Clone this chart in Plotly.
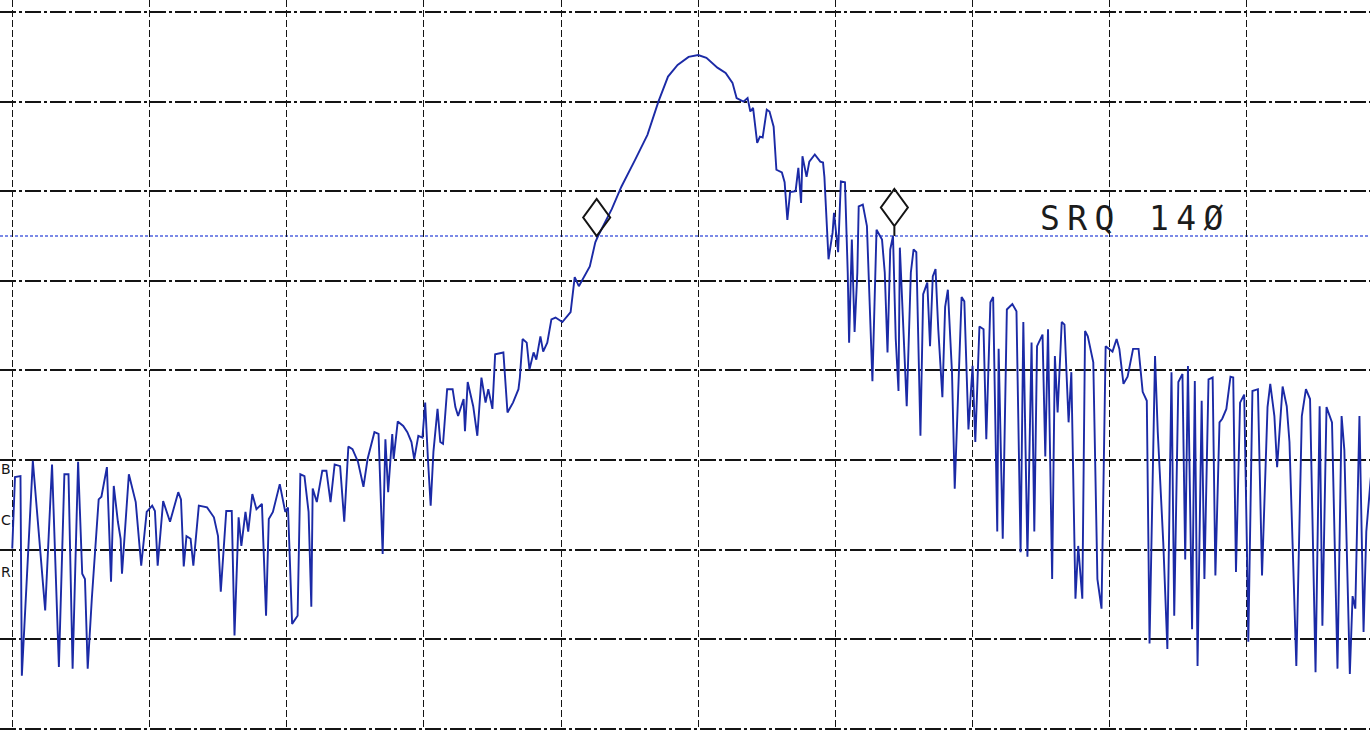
import plotly.graph_objects as go

# Spectrum analyzer trace: 1001-point sweep, 100 points per horizontal division,
# amplitude in dB below the reference level (10 dB/div).
trace_point = [
    0, 2, 6, 7, 15, 24, 29, 34, 38, 41, 44, 48, 51, 53, 55, 58, 63, 65, 69, 72,
    74, 77, 79, 80, 85, 90, 94, 98, 102, 104, 106, 110, 115, 121, 123, 125, 127, 130, 132, 136,
    142, 147, 150, 152, 156, 160, 162, 165, 167, 170, 172, 175, 178, 182, 185, 187, 190, 195, 199, 201,
    204, 208, 210, 213, 216, 218, 219, 222, 226, 229, 232, 235, 239, 242, 245, 248, 252, 256, 259, 264,
    267, 270, 272, 274, 277, 278, 281, 285, 288, 291, 293, 296, 299, 301, 303, 305, 307, 310, 312, 314,
    317, 321, 323, 325, 329, 330, 332, 336, 339, 342, 345, 347, 350, 352, 358, 361, 365, 369, 370, 372,
    375, 377, 380, 382, 385, 387, 390, 393, 396, 401, 407, 410, 413, 416, 421, 425, 427, 437, 444, 454,
    463, 471, 478, 485, 493, 500, 506, 514, 520, 525, 528, 533, 536, 538, 540, 543, 545, 547, 550, 552,
    555, 557, 561, 563, 565, 567, 571, 573, 575, 576, 579, 581, 585, 589, 591, 592, 595, 598, 599, 602,
    604, 607, 609, 610, 612, 614, 616, 617, 620, 623, 625, 627, 630, 634, 636, 638, 640, 642, 644, 646,
    647, 649, 652, 655, 657, 659, 662, 664, 667, 669, 671, 673, 675, 678, 680, 682, 685, 687, 689, 692,
    694, 697, 700, 702, 705, 708, 710, 713, 715, 718, 719, 722, 725, 729, 732, 735, 737, 740, 743, 745,
    747, 751, 753, 755, 758, 760, 762, 765, 767, 770, 772, 775, 777, 780, 782, 784, 788, 791, 794, 797,
    802, 805, 807, 810, 813, 817, 821, 824, 827, 829, 833, 835, 839, 842, 845, 847, 850, 853, 855, 857,
    860, 862, 864, 867, 869, 872, 875, 877, 880, 882, 885, 888, 890, 892, 895, 898, 900, 901, 904, 908,
    911, 915, 917, 920, 922, 926, 929, 931, 936, 940, 943, 946, 950, 953, 955, 958, 962, 966, 969, 971,
    975, 977, 979, 982, 985, 987, 990, 994, 1000,
]
trace_db = [
    -59.9, -51.9, -51.8, -74.1, -50.1, -66.8, -50.5, -73.1, -51.6, -51.6, -73.3, -50.2, -62.7, -63.3, -73.3, -65.5, -54.4, -54.1, -50.8, -63.6,
    -52.9, -56.9, -58.8, -62.7, -51.6, -54.7, -61.8, -55.8, -55.1, -55.7, -61.8, -54.6, -56.9, -53.6, -54.4, -61.9, -58.5, -58.8, -61.8, -55.1,
    -55.3, -56.4, -58.5, -64.7, -55.7, -55.7, -69.6, -56.4, -59.6, -55.8, -58.0, -53.8, -55.5, -54.9, -67.4, -56.6, -55.8, -52.7, -55.8, -55.3,
    -68.3, -67.4, -51.6, -51.8, -55.8, -66.4, -53.2, -54.7, -51.2, -51.2, -54.7, -50.5, -50.7, -56.9, -48.5, -48.8, -50.2, -53.0, -49.9, -46.9,
    -47.1, -60.5, -47.7, -53.6, -47.1, -49.9, -45.7, -46.2, -46.9, -48.0, -49.9, -47.3, -47.5, -43.6, -49.9, -55.1, -49.1, -44.3, -48.0, -48.2,
    -42.1, -42.1, -44.1, -45.1, -43.2, -46.8, -41.3, -44.0, -47.3, -40.8, -43.6, -42.1, -44.3, -38.2, -38.0, -44.7, -43.6, -42.1, -40.8, -36.5,
    -36.9, -39.9, -38.0, -38.8, -36.2, -37.9, -36.9, -34.3, -34.1, -34.6, -33.5, -29.6, -30.6, -29.8, -28.4, -25.7, -25.0, -22.0, -19.5, -16.5,
    -13.7, -10.0, -7.2, -5.9, -5.0, -4.8, -5.1, -6.2, -6.8, -7.9, -9.6, -10.0, -9.6, -11.1, -10.7, -14.6, -13.9, -14.0, -10.9, -11.1,
    -12.8, -17.6, -17.9, -19.0, -23.2, -20.1, -20.0, -17.4, -21.3, -16.1, -18.4, -16.7, -15.9, -16.7, -16.8, -18.4, -27.6, -24.6, -22.4, -26.8,
    -18.9, -19.0, -29.1, -36.9, -25.4, -35.7, -29.1, -21.7, -21.5, -23.9, -33.5, -41.2, -24.3, -25.4, -29.1, -38.0, -26.5, -25.0, -36.5, -42.3,
    -26.3, -32.9, -44.0, -29.1, -26.5, -26.8, -47.3, -31.5, -30.2, -37.3, -29.5, -28.7, -35.4, -43.0, -32.9, -31.0, -40.2, -53.2, -44.0, -31.8,
    -32.3, -46.6, -39.5, -48.0, -35.1, -35.4, -47.7, -32.4, -31.8, -58.0, -37.6, -58.8, -33.2, -32.6, -33.4, -60.3, -34.6, -60.8, -36.9, -58.0,
    -37.3, -36.0, -49.6, -35.4, -63.3, -38.4, -44.7, -34.6, -34.9, -45.8, -40.2, -65.5, -59.6, -65.5, -35.6, -36.2, -39.1, -63.3, -66.6, -37.3,
    -37.9, -36.5, -37.6, -41.5, -40.7, -37.6, -37.6, -42.4, -43.4, -70.5, -38.4, -46.9, -59.2, -71.1, -40.2, -67.4, -41.3, -40.4, -61.1, -39.5,
    -68.9, -41.2, -73.0, -43.4, -63.3, -41.0, -40.8, -62.9, -45.8, -45.4, -44.3, -40.7, -40.8, -62.5, -43.6, -42.7, -59.9, -70.3, -42.3, -42.1,
    -62.9, -44.1, -41.5, -45.1, -50.8, -41.8, -44.0, -48.0, -73.0, -45.1, -42.1, -43.2, -73.7, -44.0, -68.5, -44.1, -45.8, -73.3, -45.1, -48.9,
    -73.9, -65.2, -66.6, -45.1, -69.2, -58.0, -52.5, -46.0, -50.0,
]

# Graticule: 10 horizontal divisions, 8 vertical divisions of 10 dB
grid_points = list(range(0, 1001, 100))
grid_db = list(range(0, -81, -10))

# Display line and the two markers sitting on it
display_line_db = -25.0
marker_point = [426, 643]
marker_db = [-25.0, -25.0]

status_text = "SRQ 14Ø"
edge_labels = ["B", "C", "R"]

TRACE_BLUE = "#1b2aa6"
INK = "#141414"

fig = go.Figure()

fig.add_trace(go.Scatter(
    x=trace_point, y=trace_db, mode="lines",
    line=dict(color=TRACE_BLUE, width=1.9),
    hoverinfo="skip", showlegend=False,
))

# Display line across the full sweep
fig.add_shape(
    type="line", xref="paper", x0=0, x1=1, yref="y",
    y0=display_line_db, y1=display_line_db,
    line=dict(color="#5064e0", width=1.3, dash="3px,2px"),
    layer="between",
)

# Diamond marker symbols, sized in screen pixels above each marker point
half_w, half_h = 13.5, 18.5
for i, (mp, mdb) in enumerate(zip(marker_point, marker_db)):
    lift = 0 if i == 0 else 10
    path = (f"M0,{lift} L{half_w},{lift + half_h} L0,{lift + 2 * half_h} "
            f"L{-half_w},{lift + half_h} Z")
    if lift:
        path += f" M0,0 L0,{lift}"
    fig.add_shape(
        type="path", path=path,
        xref="x", yref="y", xsizemode="pixel", ysizemode="pixel",
        xanchor=mp, yanchor=mdb,
        line=dict(color=INK, width=2), fillcolor="rgba(255,255,255,0)",
    )

fig.add_annotation(
    xref="paper", yref="paper", x=1038 / 1370, y=1 - 218 / 730,
    xanchor="left", yanchor="middle", showarrow=False,
    text=f'<span style="letter-spacing:7.4px">{status_text}</span>',
    font=dict(family="DejaVu Sans Mono", size=33, color="#1c1c1c"),
)

# Side legend letters at the left edge of the graticule
for lbl, ypix in zip(edge_labels, [469, 520, 572]):
    fig.add_annotation(
        xref="paper", yref="paper", x=0, y=1 - ypix / 730,
        xanchor="left", yanchor="middle", showarrow=False, text=lbl,
        font=dict(family="DejaVu Sans", size=14, color="#151515"),
        borderpad=0,
    )

fig.update_layout(
    width=1370, height=730,
    margin=dict(l=0, r=0, t=0, b=0),
    paper_bgcolor="white", plot_bgcolor="white",
    xaxis=dict(
        range=[-8.93, 989.7], tickvals=grid_points, showticklabels=False,
        showgrid=True, gridcolor=INK, gridwidth=1.3, griddash="7px,3px",
        zeroline=False, showline=False, ticks="", fixedrange=True,
    ),
    yaxis=dict(
        range=[-80.15, 1.35], tickvals=grid_db, showticklabels=False,
        showgrid=True, gridcolor=INK, gridwidth=2, griddash="16px,3px,3px,3px",
        zeroline=False, showline=False, ticks="", fixedrange=True,
    ),
)

fig.write_html("out.html", config={"displayModeBar": False})
